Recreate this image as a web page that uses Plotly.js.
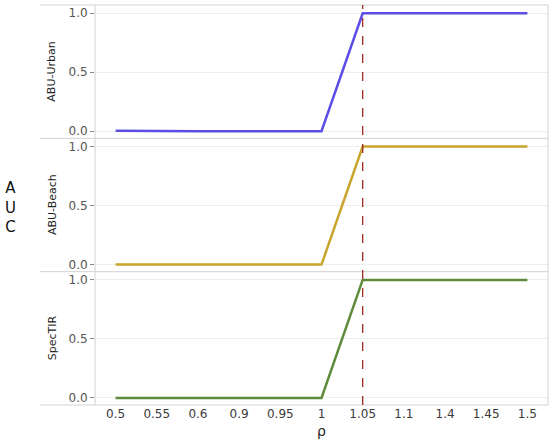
<!DOCTYPE html>
<html><head><meta charset="utf-8">
<script src="https://cdn.plot.ly/plotly-3.0.1.min.js"></script>
<style>html,body{margin:0;padding:0;background:#fff}#c{width:550px;height:443px}</style>
</head><body><div id="c"></div>
<script>
const rho = ['0.5','0.55','0.6','0.9','0.95','1','1.05','1.1','1.4','1.45','1.5'];
const aucUrban = [0.005,0,0,0,0,0,1,1,1,1,1];
const aucBeach = [0,0,0,0,0,0,1,1,1,1,1];
const aucSpecTIR = [0,0,0,0,0,0,1,1,1,1,1];
const panelNames = ['ABU-Urban','ABU-Beach','SpecTIR'];
const colors = ['#5b4de6','#c9a42c','#5e8a3b'];
const refRho = '1.05';
const yTicks = [0,0.5,1];
const yTickText = ['0.0','0.5','1.0'];

const series = [aucUrban, aucBeach, aucSpecTIR];
const traces = series.map((s,i)=>({
  x: rho, y: s, type:'scatter', mode:'lines',
  line:{color:colors[i], width:2.5},
  xaxis:'x', yaxis: i===0?'y':'y'+(i+1), showlegend:false, hoverinfo:'skip'
}));

const doms = [[2/3,1],[1/3,2/3],[0,1/3]];
const layout = {
  width:550, height:443,
  margin:{l:95,r:2,t:5,b:38},
  paper_bgcolor:'#fff', plot_bgcolor:'#fff',
  font:{family:'DejaVu Sans, Verdana, sans-serif', color:'#444'},
  xaxis:{type:'category', categoryorder:'array', categoryarray:rho, range:[-0.5,10.5],
    anchor:'y3', showgrid:false, zeroline:false, showline:false, ticks:'',
    tickfont:{size:12,color:'#3a3a3a'},
    title:{text:'ρ', font:{size:14,color:'#222'}, standoff:6}},
  shapes:[], annotations:[]
};
doms.forEach((d,i)=>{
  const key = i===0?'yaxis':'yaxis'+(i+1);
  layout[key] = {domain:d, range:[-0.06,1.07], anchor:'x',
    tickvals:yTicks, ticktext:yTickText, ticks:'outside', ticklen:4, tickcolor:'#888',
    tickfont:{size:12,color:'#555'}, showgrid:true, gridcolor:'#eeeeee', gridwidth:1,
    zeroline:false, showline:false};
  layout.annotations.push({xref:'paper', yref:'paper', x:(52-95)/453, y:(d[0]+d[1])/2,
    text:panelNames[i], textangle:-90, showarrow:false, xanchor:'center', yanchor:'middle',
    font:{size:11,color:'#222'}});
});
// panel borders
[0,1/3,2/3,1].forEach(y=>{
  layout.shapes.push({type:'line', xref:'paper', yref:'paper', x0:(40-95)/453, x1:1, y0:y, y1:y,
    line:{color:'#d2d2d2', width:1}});
});
layout.shapes.push({type:'line', xref:'paper', yref:'paper', x0:0, x1:0, y0:0, y1:1, line:{color:'#d2d2d2', width:1}});
layout.shapes.push({type:'line', xref:'paper', yref:'paper', x0:1, x1:1, y0:0, y1:1, line:{color:'#d2d2d2', width:1}});
// reference line
layout.shapes.push({type:'line', xref:'x', yref:'paper', x0:rho.indexOf(refRho), x1:rho.indexOf(refRho), y0:0, y1:1,
  line:{color:'#9e2a22', width:1.3, dash:'dash'}});
layout.annotations.push({xref:'paper', yref:'paper', x:(10-95)/453, y:(443-38-207)/400,
  text:'A<br>U<br>C', showarrow:false, xanchor:'center', yanchor:'middle', align:'center',
  font:{size:15,color:'#111'}});

Plotly.newPlot('c', traces, layout, {displayModeBar:false, staticPlot:true});
</script></body></html>
